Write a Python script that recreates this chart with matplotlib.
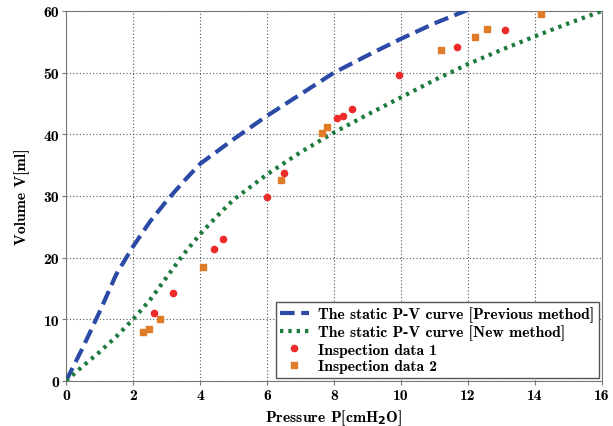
import numpy as np
import matplotlib
matplotlib.use("Agg")
import matplotlib.pyplot as plt

# curves
p_prev = [0, 0.5, 1, 1.5, 2, 2.5, 3, 3.5, 4, 5, 6, 7, 8, 9, 10, 11, 12]
v_prev = [0, 5.4, 11.2, 17.3, 21.8, 25.8, 29.2, 32.3, 35.2, 39.2, 43, 46.5, 50, 52.8, 55.5, 58, 60.2]

p_new = [0, 0.5, 1, 1.5, 2, 2.5, 3, 3.5, 4, 4.5, 5, 6, 7, 8, 9, 10, 11, 12, 13, 14, 15, 16]
v_new = [0, 2.4, 4.7, 7.2, 10, 13.1, 16.8, 20.5, 23.8, 26.7, 29.4, 33.5, 37.1, 40.3, 43.2,
         46, 48.8, 51.4, 53.7, 55.9, 58, 60]

# inspection data
p_ins1 = [2.63, 3.2, 4.43, 4.7, 6.01, 6.52, 8.1, 8.28, 8.55, 9.94, 11.66, 13.11]
v_ins1 = [11.0, 14.2, 21.4, 23.0, 29.8, 33.8, 42.7, 43.0, 44.1, 49.7, 54.2, 56.9]

p_ins2 = [2.3, 2.47, 2.8, 4.08, 6.41, 7.64, 7.8, 11.19, 12.21, 12.58, 14.18]
v_ins2 = [7.9, 8.4, 10.0, 18.5, 32.6, 40.2, 41.2, 53.6, 55.8, 57.0, 59.5]

plt.rcParams['font.family'] = ['cmb10', 'DejaVu Serif']
plt.rcParams['font.size'] = 11.3
plt.rcParams['axes.unicode_minus'] = False

fig = plt.figure(figsize=(6.13, 4.27), dpi=100)
ax = fig.add_axes([0.1077, 0.1054, 0.8744, 0.8665])

ax.plot(p_prev, v_prev, color='#2b4aa6', lw=3, ls=(0, (3.5, 1.6)),
        label='The static P-V curve [Previous method]', zorder=3)
ax.plot(p_new, v_new, color='#1b7a3c', lw=3, ls=(0, (0.8, 1.2)),
        label='The static P-V curve [New method]', zorder=3)
ax.plot(p_ins1, v_ins1, 'o', color='#ee2b2b', ms=4.5, ls='none',
        label='Inspection data 1', zorder=4)
ax.plot(p_ins2, v_ins2, 's', color='#e07b27', ms=5, ls='none',
        label='Inspection data 2', zorder=4)

ax.set_xlim(0, 16)
ax.set_ylim(0, 60)
ax.set_xticks(np.arange(0, 17, 2))
ax.set_yticks(np.arange(0, 61, 10))
ax.grid(True, color='#555555', ls=(0, (1, 2)), lw=0.8)
for s in ax.spines.values():
    s.set_color('#777777')
ax.tick_params(length=3, color='#777777', pad=2)

ax.set_xlabel('Pressure P[cmH$_\\mathbf{2}$O]', labelpad=4)
ax.set_ylabel('Volume V[ml]', labelpad=10)

leg = ax.legend(loc='lower right', fancybox=False, framealpha=1,
                edgecolor='#555555', handlelength=1.8, borderaxespad=0.2,
                labelspacing=0.15, borderpad=0.3, handletextpad=0.6)
leg.get_frame().set_linewidth(1.0)

fig.savefig('out.png', dpi=100)
